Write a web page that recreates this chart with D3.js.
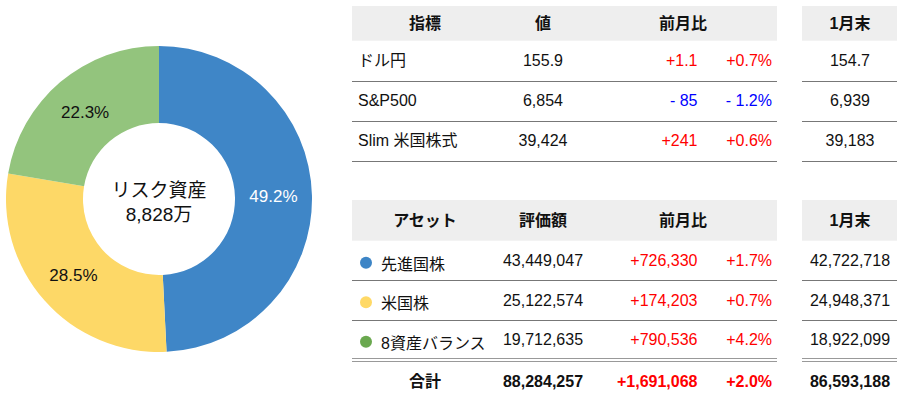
<!DOCTYPE html>
<html>
<head>
<meta charset="utf-8">
<script src="https://cdn.jsdelivr.net/npm/d3@7"></script>
<style>
  html, body { margin: 0; padding: 0; background: #fff; }
  svg { display: block; font-family: "Liberation Sans", Arial, "Noto Sans CJK JP", sans-serif; }
</style>
</head>
<body>
<div id="chart"></div>
<script>
// indicators table
const indicators = ["ドル円", "S&P500", "Slim 米国株式"];
const indValues = [155.9, 6854, 39424];
const indChange = [1.1, -85, 241];
const indChangePct = [0.7, -1.2, 0.6];
const indPrev = [154.7, 6939, 39183];

// assets table + donut
const assets = ["先進国株", "米国株", "8資産バランス"];
const assetValues = [43449047, 25122574, 19712635];
const assetChange = [726330, 174203, 790536];
const assetChangePct = [1.7, 0.7, 4.2];
const assetPrev = [42722718, 24948371, 18922099];
const totalRow = { label: "合計", value: 88284257, change: 1691068, pct: 2.0, prev: 86593188 };

const sliceColors = ["#3f86c7", "#fdd867", "#93c47d"];
const dotColors = ["#3d85c6", "#ffd966", "#6aa84f"];
const centerTitle = "リスク資産";

const width = 908, height = 397;

const svg = d3.select("#chart")
  .append("svg")
  .attr("width", width)
  .attr("height", height);

// ---------- donut ----------
const cx = 159, cy = 199, outerR = 153, innerR = 76;

const pie = d3.pie().sort(null).value(d => d);
const arc = d3.arc().innerRadius(innerR).outerRadius(outerR);
const total = d3.sum(assetValues);

const donut = svg.append("g").attr("transform", `translate(${cx},${cy})`);

donut.selectAll("path")
  .data(pie(assetValues))
  .enter()
  .append("path")
  .attr("d", arc)
  .attr("fill", (d, i) => sliceColors[i]);

donut.selectAll("text.pct")
  .data(pie(assetValues))
  .enter()
  .append("text")
  .attr("class", "pct")
  .attr("transform", d => `translate(${arc.centroid(d)})`)
  .attr("text-anchor", "middle")
  .attr("dy", "0.36em")
  .attr("font-size", 17)
  .attr("fill", (d, i) => i === 0 ? "#fff" : "#111")
  .text(d => (d.value / total * 100).toFixed(1) + "%");

donut.append("text")
  .attr("text-anchor", "middle")
  .attr("y", -9)
  .attr("dy", "0.36em")
  .attr("font-size", 19)
  .attr("fill", "#111")
  .text(centerTitle);

donut.append("text")
  .attr("text-anchor", "middle")
  .attr("y", 15)
  .attr("dy", "0.36em")
  .attr("font-size", 19)
  .attr("fill", "#111")
  .text(d3.format(",")(Math.round(total / 10000)) + "万");

// ---------- helpers ----------
const fmtNum = v => Number.isInteger(v) ? d3.format(",")(v) : d3.format(".1f")(v);
const signed = v => (v < 0 ? "- " : "+") + fmtNum(Math.abs(v));
const signedPct = v => (v < 0 ? "- " : "+") + d3.format(".1f")(Math.abs(v)) + "%";
const signColor = v => v < 0 ? "#0000ff" : "#ff0000";

// column anchors
const colL = { x0: 352, x1: 777 };
const colR = { x0: 802, x1: 897 };
const xLabel = 358, xLabelCenter = 425, xValue = 543, xChangeHead = 683;
const xChange = 697.5, xPct = 772, xPrev = 850;

function header(g, y0, h, labels) {
  g.append("rect").attr("x", colL.x0).attr("y", y0)
    .attr("width", colL.x1 - colL.x0).attr("height", h).attr("fill", "#eeeeee");
  g.append("rect").attr("x", colR.x0).attr("y", y0)
    .attr("width", colR.x1 - colR.x0).attr("height", h).attr("fill", "#eeeeee");
  const xs = [xLabelCenter, xValue, xChangeHead, xPrev];
  g.selectAll("text.h" + y0)
    .data(labels)
    .enter()
    .append("text")
    .attr("x", (d, i) => xs[i])
    .attr("y", y0 + h / 2)
    .attr("dy", "0.36em")
    .attr("text-anchor", "middle")
    .attr("font-size", 16)
    .attr("font-weight", "bold")
    .attr("fill", "#111")
    .text(d => d);
}

function rowLine(g, y, color) {
  [colL, colR].forEach(c => {
    g.append("line")
      .attr("x1", c.x0).attr("x2", c.x1)
      .attr("y1", y).attr("y2", y)
      .attr("stroke", color).attr("stroke-width", 1);
  });
}

// ---------- top table ----------
const topTbl = svg.append("g");
header(topTbl, 6, 34.7, ["指標", "値", "前月比", "1月末"]);

const yTop = d3.scaleBand().domain(indicators).range([40.5, 160.5]);

indicators.forEach((name, i) => {
  const yc = yTop(name) + yTop.bandwidth() / 2;
  const cell = (x, anchor, txt, fill) => topTbl.append("text")
    .attr("x", x).attr("y", yc).attr("dy", "0.36em")
    .attr("text-anchor", anchor).attr("font-size", 16)
    .attr("fill", fill || "#111").text(txt);
  cell(xLabel, "start", name);
  cell(xValue, "middle", fmtNum(indValues[i]));
  cell(xChange, "end", signed(indChange[i]), signColor(indChange[i]));
  cell(xPct, "end", signedPct(indChangePct[i]), signColor(indChangePct[i]));
  cell(xPrev, "middle", fmtNum(indPrev[i]));
  rowLine(topTbl, Math.round(yTop(name) + yTop.bandwidth()) + 0.5, "#777");
});

// ---------- bottom table ----------
const botTbl = svg.append("g");
header(botTbl, 200, 40.7, ["アセット", "評価額", "前月比", "1月末"]);

const yBot = d3.scaleBand().domain(assets).range([240.5, 359]);

assets.forEach((name, i) => {
  const yc = yBot(name) + yBot.bandwidth() / 2;
  const cell = (x, anchor, txt, fill) => botTbl.append("text")
    .attr("x", x).attr("y", yc).attr("dy", "0.36em")
    .attr("text-anchor", anchor).attr("font-size", 16)
    .attr("fill", fill || "#111").text(txt);
  botTbl.append("circle")
    .attr("cx", 366).attr("cy", yc + 2.5).attr("r", 6)
    .attr("fill", dotColors[i]);
  cell(381, "start", name).attr("y", yc + 3.5);
  cell(xValue, "middle", d3.format(",")(assetValues[i]));
  cell(xChange, "end", signed(assetChange[i]), signColor(assetChange[i]));
  cell(xPct, "end", signedPct(assetChangePct[i]), signColor(assetChangePct[i]));
  cell(xPrev, "middle", d3.format(",")(assetPrev[i]));
  if (i < assets.length - 1) rowLine(botTbl, Math.round(yBot(name) + yBot.bandwidth()) + 0.5, "#777");
});

// double line above total
rowLine(botTbl, 358.5, "#999");
rowLine(botTbl, 361.5, "#999");

const yTot = 381;
const tcell = (x, anchor, txt, fill) => botTbl.append("text")
  .attr("x", x).attr("y", yTot).attr("dy", "0.36em")
  .attr("text-anchor", anchor).attr("font-size", 16)
  .attr("font-weight", "bold")
  .attr("fill", fill || "#111").text(txt);
tcell(xLabelCenter, "middle", totalRow.label);
tcell(xValue, "middle", d3.format(",")(totalRow.value));
tcell(xChange, "end", signed(totalRow.change), signColor(totalRow.change));
tcell(xPct, "end", signedPct(totalRow.pct), signColor(totalRow.pct));
tcell(xPrev, "middle", d3.format(",")(totalRow.prev));
</script>
</body>
</html>
